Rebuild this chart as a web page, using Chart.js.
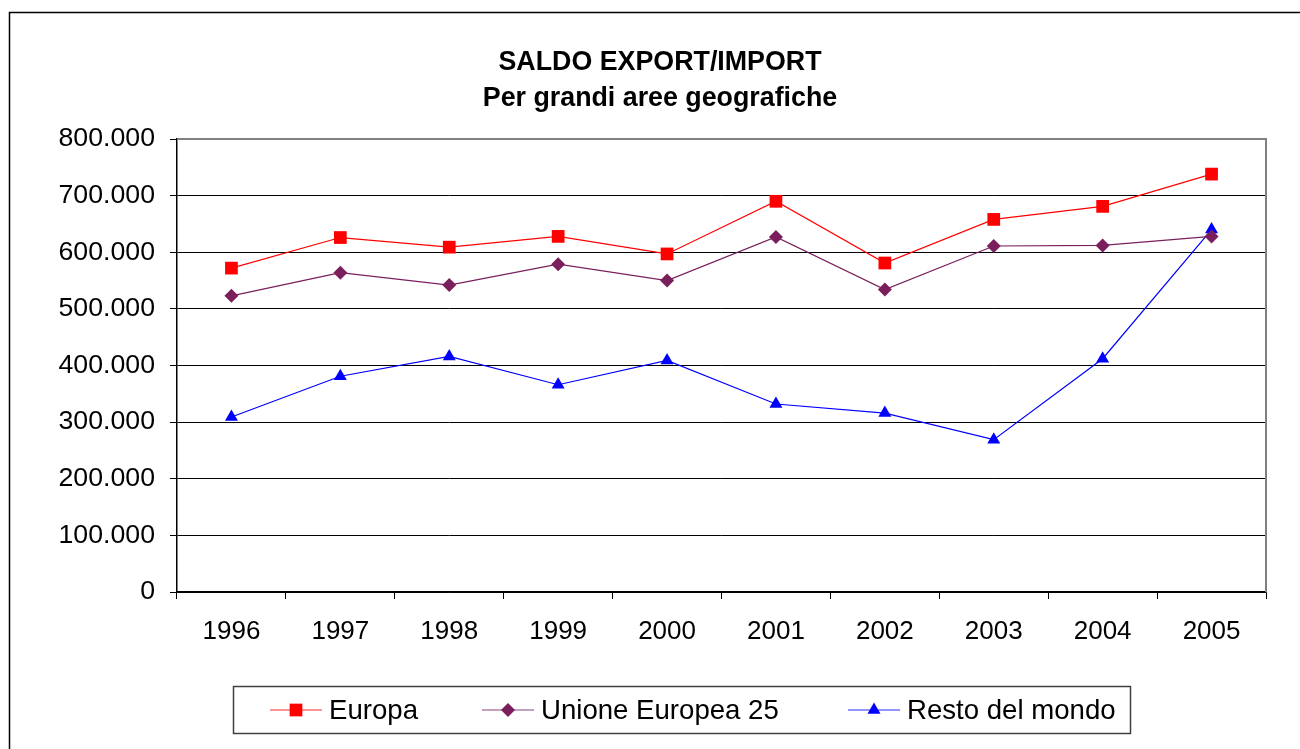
<!DOCTYPE html>
<html>
<head>
<meta charset="utf-8">
<script src="https://cdn.jsdelivr.net/npm/chart.js@4/dist/chart.umd.min.js"></script>
<style>
  html, body { margin: 0; padding: 0; background: #fff; }
  #wrap { width: 1300px; height: 749px; }
</style>
</head>
<body>
<div id="wrap"><canvas id="chart" width="1300" height="749"></canvas></div>
<script>
// Dati
const anni = ['1996', '1997', '1998', '1999', '2000', '2001', '2002', '2003', '2004', '2005'];
const europa = [572000, 626000, 609000, 628000, 597000, 690000, 581000, 658000, 681000, 738000];
const ue25 = [523000, 564000, 542000, 579000, 550000, 627000, 534000, 611000, 612000, 628000];
const restoMondo = [309000, 381000, 416000, 366000, 409000, 332000, 316000, 269000, 412000, 640000];
const titolo = ['SALDO EXPORT/IMPORT', 'Per grandi aree geografiche'];

const FONT = 'Arial, "Liberation Sans", sans-serif';

// formato italiano: 800.000
function formatta(v) {
    return String(v).replace(/\B(?=(\d{3})+(?!\d))/g, '.');
}

// cornice esterna + bordo grigio dell'area del grafico
const cornice = {
    id: 'cornice',
    beforeDraw(chart) {
        const c = chart.ctx;
        c.save();
        c.strokeStyle = '#000';
        c.lineWidth = 1.5;
        c.strokeRect(9.5, 12.5, 1400, 1000);
        c.restore();
    },
    afterDatasetsDraw(chart) {
        const a = chart.chartArea;
        const c = chart.ctx;
        c.save();
        c.strokeStyle = '#808080';
        c.lineWidth = 2;
        c.beginPath();
        c.moveTo(a.left, a.top);
        c.lineTo(a.right, a.top);
        c.lineTo(a.right, a.bottom);
        c.stroke();
        c.restore();
    }
};

// legenda disegnata a mano (linea + marcatore)
const legenda = {
    id: 'legenda',
    afterDraw(chart) {
        const c = chart.ctx;
        c.save();
        c.strokeStyle = '#404040';
        c.lineWidth = 1.5;
        c.strokeRect(233.5, 686.5, 897, 47);
        const voci = [
            { x: 270, ds: chart.data.datasets[0], linea: '#ff7070' },
            { x: 482, ds: chart.data.datasets[1], linea: '#b080a8' },
            { x: 848, ds: chart.data.datasets[2], linea: '#7070ff' }
        ];
        const y = 710;
        voci.forEach(v => {
            c.strokeStyle = v.linea;
            c.lineWidth = 1.5;
            c.beginPath();
            c.moveTo(v.x, y);
            c.lineTo(v.x + 52, y);
            c.stroke();
            c.fillStyle = v.ds.backgroundColor;
            c.strokeStyle = v.ds.borderColor;
            Chart.helpers.drawPoint(c, {
                pointStyle: v.ds.pointStyle,
                radius: v.ds.pointRadius,
                borderWidth: 0,
                rotation: 0
            }, v.x + 26, y);
            c.fillStyle = '#000';
            c.font = '27.6px ' + FONT;
            c.textBaseline = 'middle';
            c.fillText(v.ds.label, v.x + 59, y + 1);
        });
        c.restore();
    }
};

new Chart(document.getElementById('chart'), {
    type: 'line',
    data: {
        labels: anni,
        datasets: [
            {
                label: 'Europa',
                data: europa,
                borderColor: '#ff0000',
                backgroundColor: '#ff0000',
                borderWidth: 1.2,
                pointStyle: 'rect',
                pointRadius: 9,
                pointBorderWidth: 0
            },
            {
                label: 'Unione Europea 25',
                data: ue25,
                borderColor: '#7a1f5c',
                backgroundColor: '#7a1f5c',
                borderWidth: 1.2,
                pointStyle: 'rectRot',
                pointRadius: 7,
                pointBorderWidth: 0
            },
            {
                label: 'Resto del mondo',
                data: restoMondo,
                borderColor: '#0000ff',
                backgroundColor: '#0000ff',
                borderWidth: 1.2,
                pointStyle: 'triangle',
                pointRadius: 7.5,
                pointBorderWidth: 0
            }
        ]
    },
    options: {
        responsive: false,
        animation: false,
        layout: {
            padding: { left: 54, right: 34, top: 12, bottom: 0 }
        },
        plugins: {
            legend: { display: false },
            tooltip: { enabled: false },
            title: {
                display: true,
                text: titolo,
                color: '#000',
                font: { family: FONT, size: 26.8, weight: 'bold', lineHeight: 36 / 26.8 },
                padding: { top: 33, bottom: 22 }
            }
        },
        scales: {
            x: {
                offset: true,
                border: { color: '#000', width: 1.5 },
                grid: {
                    offset: true,
                    drawOnChartArea: false,
                    drawTicks: true,
                    tickLength: 7,
                    color: '#000'
                },
                ticks: {
                    color: '#000',
                    padding: 17,
                    font: { family: FONT, size: 26 },
                    maxRotation: 0
                },
                afterFit(scale) { scale.height = 157; }
            },
            y: {
                min: 0,
                max: 800000,
                border: { color: '#000', width: 1.5 },
                grid: {
                    color: ctx => (ctx.tick && ctx.tick.value === 800000) ? '#808080' : '#000',
                    lineWidth: 1,
                    tickLength: 7,
                    tickColor: '#000'
                },
                ticks: {
                    stepSize: 100000,
                    color: '#000',
                    padding: 15,
                    font: { family: FONT, size: 26.7 },
                    callback: v => formatta(v)
                },
                afterFit(scale) { scale.width = 123; }
            }
        }
    },
    plugins: [cornice, legenda]
});
</script>
</body>
</html>
